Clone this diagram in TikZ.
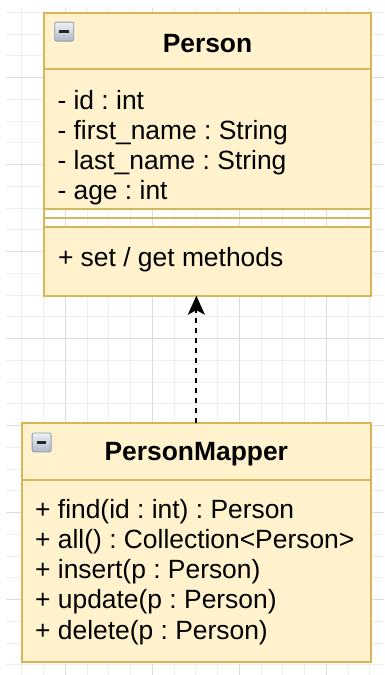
\documentclass[tikz,border=0pt]{standalone}
\usepackage{fontspec}
\setmainfont{Liberation Sans}
\usetikzlibrary{arrows.meta}

\definecolor{classfill}{HTML}{FFF2CC}
\definecolor{classline}{HTML}{D6B656}
\definecolor{gridminor}{HTML}{EEEEEE}
\definecolor{gridmajor}{HTML}{DCDCDC}
\definecolor{iconline}{HTML}{8E9BAC}
\definecolor{icontop}{HTML}{EEF1F5}
\definecolor{iconbottom}{HTML}{AEB9C7}

\tikzset{
  section/.style={draw=classline, fill=classfill, line width=1.8pt},
  frame/.style={draw=classline, line width=1.8pt, inner sep=0pt, outer sep=0pt, anchor=north west},
  member/.style={anchor=base west, inner sep=0pt, font=\fontsize{26.4}{30}\selectfont\frenchspacing},
  classname/.style={anchor=base, inner sep=0pt, font=\fontsize{26.4}{30}\selectfont\bfseries},
  collapse/.style={anchor=north west, minimum size=19pt, inner sep=0pt, rounded corners=2pt,
    top color=icontop, bottom color=iconbottom, draw=iconline, line width=0.8pt,
    path picture={\fill[black!85, sharp corners] ([xshift=-4.8pt,yshift=-1.3pt]path picture bounding box.center) rectangle ++(9.6pt,2.6pt);}},
  connector/.style={line width=1.8pt, dash pattern=on 5pt off 5pt,
    -{Stealth[length=19pt,width=17pt,inset=4.5pt]}},
}

\begin{document}
\begin{tikzpicture}[x=1pt,y=-1pt]
\useasboundingbox (0,0) rectangle (384,675);
\fill[white] (0,0) rectangle (384,675);

% background grid
\begin{scope}
  \clip (6,8) rectangle (384,675);
  \foreach \k in {-3,...,14} \draw[gridminor, line width=0.8pt] (65.3+21.75*\k,0) -- (65.3+21.75*\k,675);
  \foreach \k in {-15,...,15} \draw[gridminor, line width=0.8pt] (0,338.5+21.75*\k) -- (384,338.5+21.75*\k);
  \foreach \k in {0,...,3} \draw[gridmajor, line width=0.8pt] (65.3+87*\k,0) -- (65.3+87*\k,675);
  \foreach \k in {-3,...,3} \draw[gridmajor, line width=0.8pt] (0,338.5+87*\k) -- (384,338.5+87*\k);
\end{scope}

% class Person
\path[section] (44,12.7) rectangle (371,69.3);
\path[section] (44,69.3) rectangle (371,209);
\draw[classline, line width=1.8pt] (44,218) -- (371,218);
\path[section] (44,226.7) rectangle (371,295.7);
\node[frame, minimum width=327pt, minimum height=283pt] (person) at (44,12.7) {};
\node[collapse] (pcollapse) at (54.3,21.7) {};
\node[classname] (ptitle) at (207.5,52.2) {Person};
\node[member] (pattr1) at (57.3,109) {- id : int};
\node[member] (pattr2) at (57.3,139) {- first\_name : String};
\node[member] (pattr3) at (57.3,169) {- last\_name : String};
\node[member] (pattr4) at (57.3,199) {- age : int};
\node[member] (pmeth1) at (57.8,266) {+ set / get methods};

% class PersonMapper
\path[section] (21.7,423) rectangle (371,480);
\path[section] (21.7,480) rectangle (371,662);
\node[frame, minimum width=349.3pt, minimum height=239pt] (mapper) at (21.7,423) {};
\node[collapse] (mcollapse) at (31.7,432.5) {};
\node[classname] (mtitle) at (196.3,460) {PersonMapper};
\node[member] (mmeth1) at (35,518) {+ find(id : int) : Person};
\node[member] (mmeth2) at (35,548.3) {+ all() : Collection<Person>};
\node[member] (mmeth3) at (35,578.6) {+ insert(p : Person)};
\node[member] (mmeth4) at (35,608.9) {+ update(p : Person)};
\node[member] (mmeth5) at (35,639.2) {+ delete(p : Person)};

% dependency
\draw[connector] (mapper.north) -- (mapper.north |- person.south);
\end{tikzpicture}
\end{document}
